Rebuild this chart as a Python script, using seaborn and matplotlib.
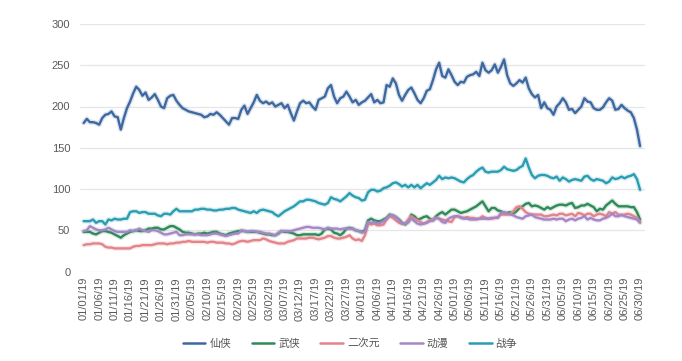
import numpy as np
import pandas as pd
import matplotlib
matplotlib.use("Agg")
import matplotlib.pyplot as plt
import seaborn as sns
from matplotlib import patheffects as pe

# ---------------- data ----------------
dates = pd.date_range("2019-01-01", "2019-06-30", freq="D")
days = list(range(len(dates)))

xianxia = [
    180, 185, 181, 181, 180, 178, 186, 190, 191, 194,
    188, 187, 172, 186, 198, 206, 216, 224, 220, 213,
    217, 208, 211, 215, 208, 200, 198, 210, 213, 214,
    207, 202, 198, 196, 194, 193, 192, 191, 190, 187,
    188, 191, 190, 193, 190, 186, 182, 178, 186, 186,
    185, 196, 201, 191, 198, 205, 214, 207, 204, 206,
    203, 205, 200, 202, 204, 198, 202, 192, 183, 194,
    204, 207, 204, 205, 200, 196, 208, 210, 212, 222,
    226, 212, 204, 210, 212, 218, 212, 205, 208, 202,
    205, 207, 211, 215, 205, 208, 204, 205, 226, 224,
    234, 228, 214, 207, 214, 220, 223, 216, 208, 204,
    210, 219, 221, 232, 245, 253, 237, 235, 245, 238,
    230, 226, 230, 229, 236, 238, 239, 242, 237, 253,
    244, 241, 244, 251, 241, 248, 257, 238, 228, 225,
    228, 232, 229, 235, 222, 215, 211, 214, 198, 205,
    198, 196, 190, 200, 204, 210, 205, 196, 197, 192,
    196, 200, 210, 206, 205, 198, 196, 196, 199, 205,
    210, 207, 196, 197, 202, 198, 195, 193, 186, 172,
    152,
]

wuxia = [
    48, 48, 48, 46, 45, 47, 49, 49, 48, 47,
    45, 43, 41, 44, 46, 48, 49, 50, 49, 49,
    50, 52, 52, 53, 53, 51, 51, 53, 55, 55,
    53, 51, 48, 47, 47, 46, 45, 46, 46, 47,
    46, 47, 48, 48, 46, 45, 44, 46, 47, 48,
    49, 49, 49, 48, 48, 48, 48, 47, 46, 45,
    45, 44, 44, 46, 49, 48, 48, 47, 46, 44,
    44, 45, 45, 45, 45, 45, 44, 46, 51, 52,
    51, 47, 46, 44, 47, 52, 53, 52, 50, 49,
    48, 50, 62, 64, 62, 61, 61, 63, 65, 69,
    68, 66, 63, 59, 57, 60, 69, 67, 63, 64,
    66, 67, 64, 62, 67, 70, 72, 69, 72, 75,
    75, 73, 71, 72, 73, 75, 77, 79, 82, 85,
    79, 73, 77, 77, 74, 73, 71, 71, 72, 70,
    73, 77, 79, 82, 83, 79, 80, 79, 77, 75,
    78, 76, 78, 80, 81, 81, 80, 82, 83, 77,
    78, 80, 80, 82, 80, 78, 73, 76, 75, 80,
    83, 86, 82, 79, 79, 79, 79, 78, 78, 72,
    63,
]

erciyuan = [
    32, 33, 33, 34, 34, 34, 33, 30, 29, 29,
    28, 28, 28, 28, 28, 28, 30, 31, 31, 32,
    32, 32, 32, 33, 34, 34, 34, 33, 34, 34,
    35, 35, 36, 36, 37, 36, 36, 36, 36, 36,
    35, 36, 36, 35, 35, 35, 34, 34, 33, 34,
    36, 37, 37, 36, 37, 38, 38, 38, 40, 39,
    37, 36, 35, 34, 34, 34, 36, 37, 38, 40,
    40, 40, 40, 41, 41, 40, 39, 40, 41, 43,
    43, 41, 40, 40, 41, 42, 44, 40, 38, 39,
    37, 44, 58, 57, 58, 56, 56, 57, 63, 67,
    65, 62, 59, 58, 58, 63, 67, 64, 62, 60,
    58, 60, 62, 63, 65, 64, 63, 62, 61, 60,
    66, 67, 66, 65, 66, 65, 65, 64, 64, 67,
    65, 64, 64, 65, 66, 69, 69, 69, 70, 73,
    78, 79, 76, 72, 70, 69, 69, 69, 69, 67,
    67, 68, 69, 68, 70, 70, 68, 69, 70, 67,
    71, 70, 68, 70, 70, 67, 69, 70, 69, 67,
    72, 70, 72, 69, 68, 69, 70, 69, 67, 65,
    60,
]

dongman = [
    49, 50, 55, 53, 51, 50, 50, 51, 53, 51,
    49, 48, 48, 48, 48, 50, 49, 50, 52, 50,
    49, 48, 50, 50, 49, 47, 45, 45, 46, 47,
    48, 44, 44, 45, 45, 45, 45, 45, 44, 44,
    44, 45, 46, 46, 45, 44, 43, 44, 45, 46,
    46, 50, 49, 48, 49, 49, 48, 48, 47, 46,
    46, 45, 44, 47, 49, 49, 49, 49, 50, 51,
    52, 53, 54, 54, 53, 53, 53, 52, 51, 53,
    52, 52, 52, 51, 52, 52, 52, 52, 50, 49,
    47, 48, 60, 59, 60, 58, 59, 61, 64, 68,
    68, 66, 62, 58, 58, 60, 64, 61, 58, 57,
    58, 59, 61, 62, 65, 64, 60, 59, 64, 66,
    67, 67, 65, 64, 64, 63, 63, 63, 64, 64,
    64, 64, 65, 65, 65, 71, 72, 70, 69, 68,
    66, 65, 64, 67, 68, 69, 66, 65, 64, 63,
    63, 63, 64, 63, 64, 64, 61, 63, 64, 62,
    64, 65, 67, 63, 65, 63, 62, 62, 64, 65,
    67, 70, 67, 67, 69, 67, 66, 65, 64, 63,
    59,
]

zhanzheng = [
    61, 61, 61, 63, 59, 61, 61, 57, 63, 62,
    64, 63, 63, 64, 64, 72, 73, 73, 71, 72,
    72, 70, 70, 70, 68, 67, 70, 70, 69, 73,
    76, 73, 73, 73, 73, 73, 75, 75, 76, 76,
    75, 75, 74, 74, 75, 75, 76, 76, 77, 77,
    75, 74, 73, 72, 71, 73, 71, 74, 75, 74,
    73, 72, 69, 67, 70, 73, 75, 77, 79, 82,
    85, 85, 87, 87, 86, 85, 83, 82, 81, 83,
    90, 88, 87, 85, 88, 91, 95, 92, 90, 89,
    86, 87, 96, 99, 99, 97, 98, 101, 102, 104,
    107, 108, 106, 103, 105, 102, 105, 102, 105, 101,
    104, 107, 105, 108, 111, 116, 112, 114, 113, 114,
    113, 111, 109, 108, 112, 115, 117, 121, 124, 126,
    121, 120, 121, 121, 121, 123, 127, 124, 123, 122,
    123, 126, 128, 137, 126, 117, 113, 116, 117, 117,
    116, 114, 113, 115, 110, 114, 112, 109, 111, 112,
    111, 110, 115, 116, 112, 110, 112, 111, 110, 107,
    109, 114, 112, 113, 115, 113, 115, 116, 118, 112,
    99,
]

series_names = ["仙侠", "武侠", "二次元", "动漫", "战争"]
series_values = [xianxia, wuxia, erciyuan, dongman, zhanzheng]
colors = ["#3e69a0", "#2e8a58", "#e5838a", "#a387c6", "#2a9db2"]

tick_positions = list(range(0, 181, 5))
tick_labels = [
    "01/01/19", "01/06/19", "01/11/19", "01/16/19", "01/21/19", "01/26/19",
    "01/31/19", "02/05/19", "02/10/19", "02/15/19", "02/20/19", "02/25/19",
    "03/02/19", "03/07/19", "03/12/19", "03/17/19", "03/22/19", "03/27/19",
    "04/01/19", "04/06/19", "04/11/19", "04/16/19", "04/21/19", "04/26/19",
    "05/01/19", "05/06/19", "05/11/19", "05/16/19", "05/21/19", "05/26/19",
    "05/31/19", "06/05/19", "06/10/19", "06/15/19", "06/20/19", "06/25/19",
    "06/30/19",
]
y_ticks = [0, 50, 100, 150, 200, 250, 300]

# ---------------- table ----------------
frames = []
for name, vals in zip(series_names, series_values):
    frames.append(pd.DataFrame({"day": days, "value": vals, "series": name}))
df = pd.concat(frames, ignore_index=True)

# ---------------- style ----------------
sns.set_theme(style="white")
plt.rcParams["font.family"] = ["Liberation Sans", "Noto Sans CJK SC", "DejaVu Sans"]

fig = plt.figure(figsize=(6.82, 3.61), dpi=100)
ax = fig.add_axes([80 / 682, 1 - 271.5 / 361, 565 / 682, 247.5 / 361])

sns.lineplot(data=df, x="day", y="value", hue="series", hue_order=series_names,
             palette=colors, linewidth=1.7, ax=ax, legend=True)

for line in ax.get_lines():
    c = line.get_color()
    line.set_path_effects([pe.Stroke(linewidth=3.6, foreground=c, alpha=0.18), pe.Normal()])
    line.set_solid_joinstyle("round")

ax.set_xlim(-1.2, 181.6)
ax.set_ylim(0, 300)
ax.set_yticks(y_ticks)
ax.set_xticks(tick_positions)
ax.set_xticklabels(tick_labels, rotation=90)
ax.set_xlabel("")
ax.set_ylabel("")
ax.grid(axis="y", color="#e6e6e6", linewidth=0.9)
ax.grid(axis="x", visible=False)
for s in ax.spines.values():
    s.set_visible(False)
ax.tick_params(axis="both", length=0, labelsize=8, labelcolor="#5a5a5a")
ax.tick_params(axis="x", pad=4)
ax.tick_params(axis="y", pad=7)

sns.move_legend(ax, "center", bbox_to_anchor=(350 / 682, 1 - 344 / 361),
                bbox_transform=fig.transFigure, ncol=5, frameon=False, title=None,
                fontsize=7.8, handlelength=2.1, handletextpad=0.35, columnspacing=1.9)
leg = ax.get_legend()
for t in leg.get_texts():
    t.set_color("#555555")
    t.set_family(["Noto Sans CJK SC", "DejaVu Sans"])
for h in leg.legend_handles:
    h.set_linewidth(1.8)

fig.savefig("out.png", dpi=100, facecolor="white")
